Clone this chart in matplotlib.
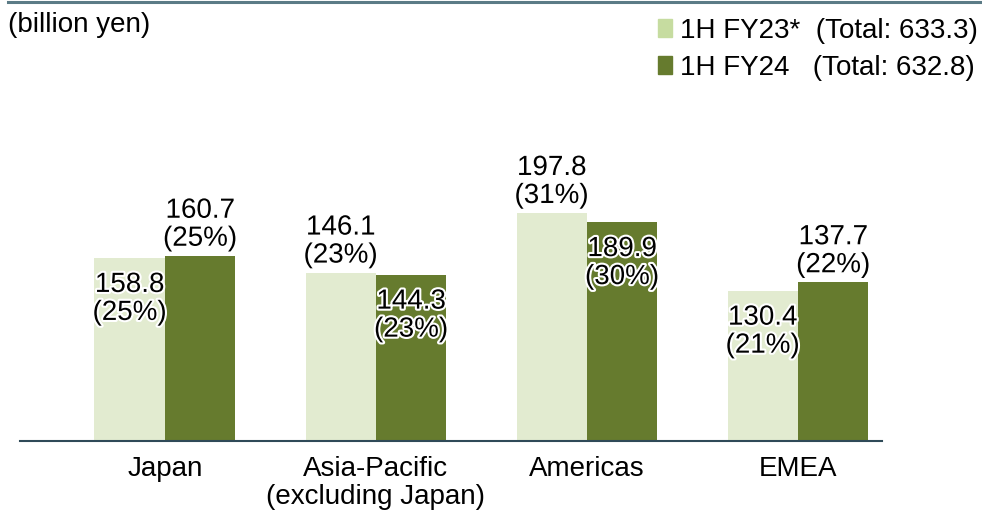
import numpy as np
import matplotlib
matplotlib.use('Agg')
import matplotlib.pyplot as plt
import matplotlib.patheffects as pe
from matplotlib.lines import Line2D
from matplotlib.patches import Patch

plt.rcParams['font.family'] = ['Liberation Sans', 'DejaVu Sans']

regions = ['Japan', 'Asia-Pacific\n(excluding Japan)', 'Americas', 'EMEA']
fy23 = [158.8, 146.1, 197.8, 130.4]
fy24 = [160.7, 144.3, 189.9, 137.7]
fy23_share = [25, 23, 31, 21]
fy24_share = [25, 23, 30, 22]
series_names = ['1H FY23*  (Total: 633.3)', '1H FY24   (Total: 632.8)']
# where each value label sits: 'in' = inside the bar top, 'out' = above it
fy23_place = ['in', 'out', 'out', 'in']
fy24_place = ['out', 'in', 'in', 'out']

light = '#e2ebd0'
dark = '#667b2e'
legend_light = '#c6dca0'

fig = plt.figure(figsize=(9.82, 5.12), dpi=100)
ax = fig.add_axes([20 / 982, 71 / 512, 862 / 982, 341 / 512])

x = np.arange(len(regions))
w = 0.334
b1 = ax.bar(x - w / 2, fy23, w, color=light)
b2 = ax.bar(x + w / 2, fy24, w, color=dark)

ax.set_xlim(-0.687, 3.398)
ax.set_ylim(0, 295.8)

halo = [pe.withStroke(linewidth=3, foreground='white')]


def label(bars, vals, shares, places):
    for bar, v, s, p in zip(bars, vals, shares, places):
        cx = bar.get_x() + bar.get_width() / 2
        if p == 'in':
            off, va = -14, 'top'
        else:
            off, va = 4, 'bottom'
        ax.annotate(f'{v:.1f}\n({s}%)', (cx, v), xytext=(0, off),
                    textcoords='offset pixels', ha='center', va=va,
                    fontsize=20, linespacing=1.1, color='black',
                    path_effects=halo)


label(b1, fy23, fy23_share, fy23_place)
label(b2, fy24, fy24_share, fy24_place)

ax.set_xticks(x)
ax.set_xticklabels(regions, fontsize=20)
for t in ax.get_xticklabels():
    t.set_linespacing(1.08)
ax.tick_params(axis='x', length=0, pad=11)
ax.set_yticks([])
for side in ['top', 'right', 'left']:
    ax.spines[side].set_visible(False)
ax.spines['bottom'].set_color('#2f4a58')
ax.spines['bottom'].set_linewidth(1.5)

# top rule
fig.add_artist(Line2D([8 / 982, 1], [1 - 1.5 / 512] * 2, color='#5b7b86',
                      linewidth=2.2, transform=fig.transFigure))
fig.text(8 / 982, 1 - 12 / 512, '(billion yen)', fontsize=20, ha='left', va='top')

handles = [Patch(color=legend_light), Patch(color=dark)]
fig.legend(handles, series_names, loc='upper right',
           bbox_to_anchor=(1 - 4 / 982, 1 - 18 / 512), frameon=False,
           fontsize=20, handlelength=0.5, handleheight=0.6,
           handletextpad=0.3, labelspacing=0.4, borderaxespad=0,
           borderpad=0)

fig.savefig('out.png', dpi=100)
